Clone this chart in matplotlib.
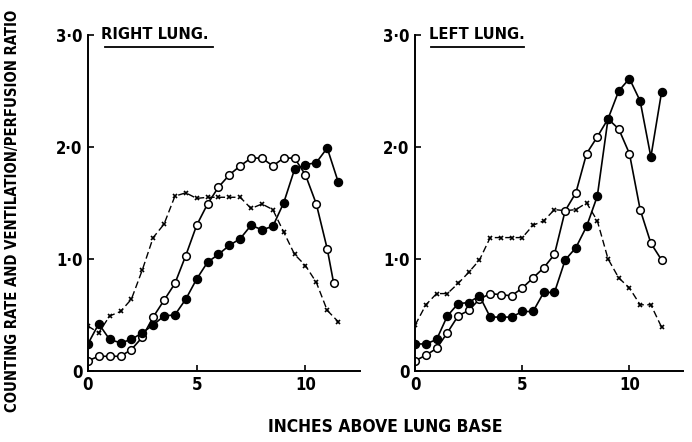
import matplotlib
matplotlib.use("Agg")
import matplotlib.pyplot as plt

# inches above lung base, 0.5 inch steps
x_pos = [0, 0.5, 1, 1.5, 2, 2.5, 3, 3.5, 4, 4.5, 5, 5.5, 6, 6.5, 7, 7.5,
         8, 8.5, 9, 9.5, 10, 10.5, 11, 11.5]

# right lung
right_filled = [0.24, 0.42, 0.28, 0.25, 0.28, 0.34, 0.41, 0.49, 0.50, 0.64, 0.82, 0.97,
                1.04, 1.12, 1.18, 1.30, 1.26, 1.29, 1.50, 1.80, 1.84, 1.86, 1.99, 1.69]
right_open_x = x_pos[:-1] + [11.3]
right_open = [0.09, 0.13, 0.13, 0.13, 0.19, 0.30, 0.48, 0.63, 0.78, 1.03, 1.30, 1.49,
              1.64, 1.75, 1.83, 1.90, 1.90, 1.83, 1.90, 1.90, 1.75, 1.49, 1.09, 0.78]
right_cross = [0.40, 0.34, 0.49, 0.53, 0.64, 0.90, 1.19, 1.31, 1.56, 1.59, 1.54, 1.55,
               1.55, 1.55, 1.55, 1.45, 1.49, 1.44, 1.24, 1.04, 0.94, 0.79, 0.54, 0.44]

# left lung
left_filled = [0.24, 0.24, 0.28, 0.49, 0.60, 0.61, 0.67, 0.48, 0.48, 0.48, 0.53, 0.53,
               0.70, 0.70, 0.99, 1.10, 1.29, 1.56, 2.25, 2.50, 2.61, 2.41, 1.91, 2.49]
left_open = [0.09, 0.14, 0.20, 0.34, 0.49, 0.54, 0.64, 0.69, 0.68, 0.67, 0.74, 0.83,
             0.92, 1.04, 1.43, 1.59, 1.94, 2.09, 2.25, 2.16, 1.94, 1.44, 1.14, 0.99]
left_cross = [0.41, 0.59, 0.69, 0.69, 0.78, 0.88, 0.99, 1.19, 1.19, 1.19, 1.19, 1.30,
              1.34, 1.44, 1.43, 1.44, 1.50, 1.34, 1.00, 0.83, 0.74, 0.59, 0.59, 0.39]

y_ticks = [0, 1, 2, 3]
y_ticklabels = ['0', '1·0', '2·0', '3·0']
x_ticks = [0, 5, 10]
x_ticklabels = ['0', '5', '10']

font = dict(family='DejaVu Sans', stretch='condensed', weight='bold')

fig = plt.figure(figsize=(6.92, 4.42), dpi=100)
ax_r = fig.add_axes([0.127, 0.161, 0.393, 0.76])
ax_l = fig.add_axes([0.600, 0.161, 0.387, 0.76])


def draw_panel(ax, title, filled, open_x, open_vals, cross):
    ax.plot(x_pos, cross, color='black', lw=1.0, linestyle=(0, (5, 2.5)),
            marker='x', markersize=3.5, markeredgewidth=1.2)
    ax.plot(open_x, open_vals, color='black', lw=1.2, marker='o', markersize=5.5,
            markerfacecolor='white', markeredgecolor='black', markeredgewidth=1.1)
    ax.plot(x_pos, filled, color='black', lw=1.2, marker='o', markersize=5.8,
            markerfacecolor='black', markeredgecolor='black')
    ax.set_xlim(0, 12.5)
    ax.set_ylim(0, 3.0)
    ax.spines['top'].set_visible(False)
    ax.spines['right'].set_visible(False)
    ax.spines['left'].set_linewidth(1.4)
    ax.spines['bottom'].set_linewidth(1.4)
    ax.set_yticks(y_ticks)
    ax.set_yticklabels(y_ticklabels, fontsize=12, **font)
    ax.set_xticks(x_ticks)
    ax.set_xticklabels(x_ticklabels, fontsize=12, **font)
    ax.tick_params(direction='in', length=4, width=1.2, pad=4)
    ax.text(0.05, 1.0, title, transform=ax.transAxes, fontsize=11.8,
            ha='left', va='center', **font)
    ax.patch.set_visible(False)


draw_panel(ax_r, 'RIGHT LUNG.', right_filled, right_open_x, right_open, right_cross)
draw_panel(ax_l, 'LEFT LUNG.', left_filled, x_pos, left_open, left_cross)

# underlines below titles
fig.add_artist(plt.Line2D([105 / 692, 213 / 692], [1 - 47 / 442, 1 - 47 / 442],
                          color='black', lw=1.3))
fig.add_artist(plt.Line2D([431 / 692, 524 / 692], [1 - 47 / 442, 1 - 47 / 442],
                          color='black', lw=1.3))

fig.text(0.018, 0.524, 'COUNTING RATE AND VENTILATION/PERFUSION RATIO', rotation=90,
         ha='center', va='center', fontsize=10.6, **font)
fig.text(0.557, 0.035, 'INCHES ABOVE LUNG BASE', ha='center', va='center',
         fontsize=12.5, **font)

fig.savefig('out.png', dpi=100)
